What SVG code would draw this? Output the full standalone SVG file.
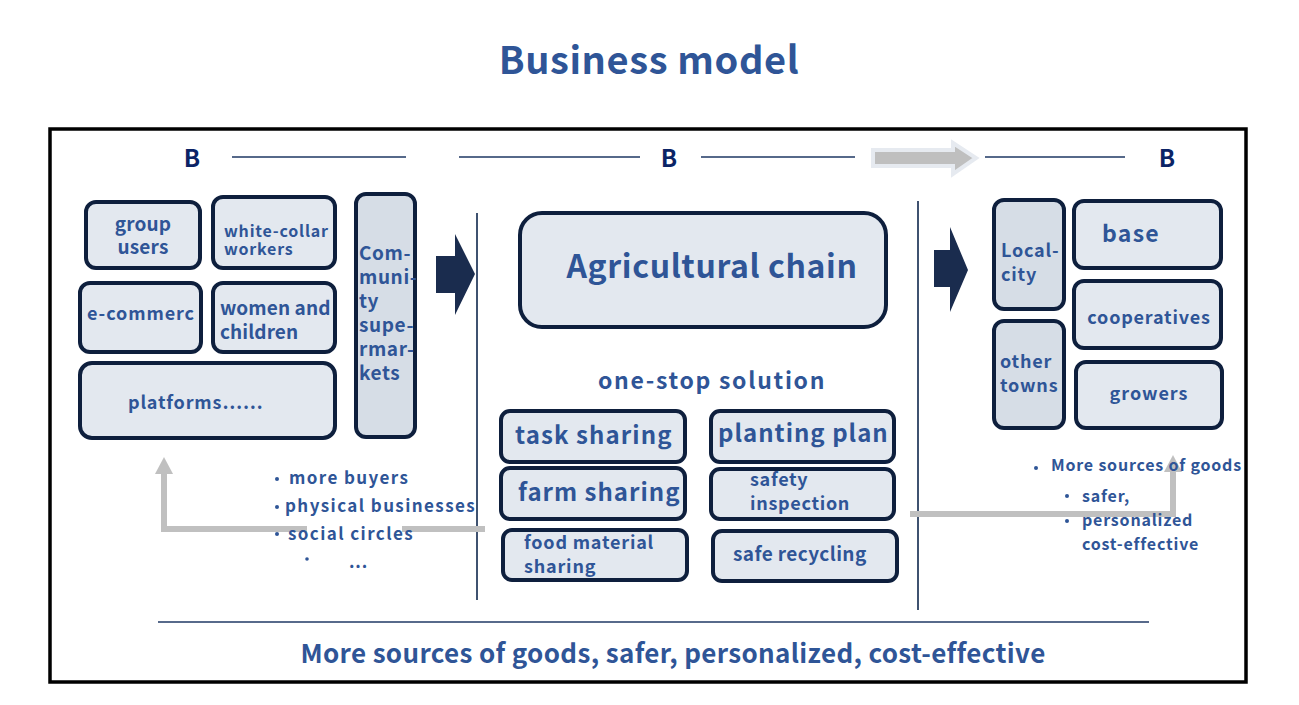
<svg xmlns="http://www.w3.org/2000/svg" width="1299" height="705" viewBox="0 0 1299 705">
<style>
text{font-family:"Noto Sans CJK SC","Noto Sans",sans-serif;font-weight:700;fill:#2F5597;letter-spacing:0.8px}
.b{fill:#0B2466;font-size:24px;letter-spacing:0}
.box{fill:#E3E8EF;stroke:#0E1F3D;stroke-width:4}
.box2{fill:#D6DDE6;stroke:#0E1F3D;stroke-width:4}
.ln{stroke:#1F3864;stroke-width:1.5;fill:none}
.vl{stroke:#3F5270;stroke-width:2;fill:none}
.gr{stroke:#C0C0C0;stroke-width:6;fill:none}
.dk{fill:#1A2C4E}
.bl{letter-spacing:1.4px}
.dot{fill:#2F5597}
</style>
<rect width="1299" height="705" fill="#fff"/>
<text x="649" y="74" text-anchor="middle" font-size="38" style="letter-spacing:0.6px">Business model</text>
<rect x="50" y="129" width="1196" height="553" fill="none" stroke="#000" stroke-width="3.5"/>

<g id="headers">
<text class="b" x="192" y="167" text-anchor="middle">B</text>
<text class="b" x="669" y="167" text-anchor="middle">B</text>
<text class="b" x="1167" y="167" text-anchor="middle">B</text>
<path class="ln" d="M232 157H406M459 157H640M701 157H855M985 157H1125"/>
<path d="M873 150H953V143L976 158L953 174V166H873Z" fill="#BFBFBF" stroke="#E6EAF0" stroke-width="4"/>
</g>

<g id="left-nodes">
<g id="n-group"><rect class="box" x="86" y="202" width="114" height="66" rx="10"/><text font-size="19" text-anchor="middle" style="letter-spacing:0.2px"><tspan x="143" y="231">group</tspan><tspan x="143" y="254">users</tspan></text></g>
<g id="n-white"><rect class="box" x="213" y="197" width="122" height="71" rx="10"/><text font-size="16"><tspan x="224" y="237">white-collar</tspan><tspan x="224" y="255">workers</tspan></text></g>
<g id="n-ecom"><rect class="box" x="80" y="283" width="121" height="69" rx="10"/><text x="87" y="320" font-size="18" style="letter-spacing:0.9px">e-commerc</text></g>
<g id="n-women"><rect class="box" x="213" y="283" width="122" height="69" rx="10"/><text font-size="19" style="letter-spacing:0.1px"><tspan x="220" y="315">women and</tspan><tspan x="220" y="339">children</tspan></text></g>
<g id="n-platforms"><rect class="box" x="80" y="363" width="255" height="75" rx="12"/><text x="128" y="409" font-size="18">platforms……</text></g>
<g id="n-community"><rect class="box2" x="356" y="194" width="59" height="243" rx="10"/>
<text font-size="19" style="letter-spacing:0.6px"><tspan x="359" y="260">Com-</tspan><tspan x="359" y="284">muni-</tspan><tspan x="359" y="308">ty</tspan><tspan x="359" y="332">supe-</tspan><tspan x="359" y="356">rmar-</tspan><tspan x="359" y="380">kets</tspan></text></g>
</g>

<g id="center-nodes">
<g id="n-agri"><rect class="box" x="520" y="213" width="366" height="114" rx="22"/><text x="712" y="278" font-size="32" text-anchor="middle" style="letter-spacing:0.6px">Agricultural chain</text></g>
<text x="712" y="389" font-size="23" text-anchor="middle" style="letter-spacing:1.7px">one-stop solution</text>
<g id="n-task"><rect class="box" x="501" y="411" width="184" height="51" rx="9"/><text x="515" y="444" font-size="24" style="letter-spacing:1.1px">task sharing</text></g>
<g id="n-farm"><rect class="box" x="501" y="468" width="184" height="51" rx="9"/><text x="518" y="501" font-size="24" style="letter-spacing:1px">farm sharing</text></g>
<g id="n-food"><rect class="box" x="503" y="530" width="184" height="50" rx="9"/><text font-size="18"><tspan x="524" y="549">food material</tspan><tspan x="524" y="573">sharing</tspan></text></g>
<g id="n-plant"><rect class="box" x="711" y="411" width="183" height="51" rx="9"/><text x="718" y="442" font-size="24" style="letter-spacing:1px">planting plan</text></g>
<g id="n-safety"><rect class="box" x="711" y="469" width="183" height="50" rx="9"/><text font-size="18" style="letter-spacing:0.7px"><tspan x="750" y="486">safety</tspan><tspan x="750" y="510">inspection</tspan></text></g>
<g id="n-recycle"><rect class="box" x="713" y="531" width="184" height="50" rx="9"/><text x="733" y="561" font-size="19" style="letter-spacing:0.4px">safe recycling</text></g>
</g>

<g id="right-nodes">
<g id="n-local"><rect class="box2" x="994" y="200" width="70" height="109" rx="10"/><text font-size="18"><tspan x="1001" y="257">Local-</tspan><tspan x="1001" y="281">city</tspan></text></g>
<g id="n-other"><rect class="box2" x="994" y="321" width="70" height="107" rx="10"/><text font-size="18"><tspan x="1000" y="368">other</tspan><tspan x="1000" y="392">towns</tspan></text></g>
<g id="n-base"><rect class="box" x="1074" y="201" width="147" height="67" rx="10"/><text x="1102" y="242" font-size="23" style="letter-spacing:1.3px">base</text></g>
<g id="n-coop"><rect class="box" x="1074" y="281" width="147" height="67" rx="10"/><text x="1149" y="324" font-size="18" text-anchor="middle">cooperatives</text></g>
<g id="n-growers"><rect class="box" x="1076" y="362" width="146" height="66" rx="10"/><text x="1149" y="400" font-size="18" text-anchor="middle" style="letter-spacing:1px">growers</text></g>
</g>

<g id="connectors">
<path class="dk" d="M436 256H455V234L475 274L455 315V293H436Z"/>
<path class="dk" d="M934 250H950V227L968 270L950 312V287H934Z"/>
<path class="vl" d="M477 213V600M918 201V610"/>
<path class="gr" d="M485 529H402M307 529H164V472"/>
<path d="M155 474L164 457L173 474Z" fill="#C0C0C0"/>
<path class="gr" d="M910 514H1173V470"/>
<path d="M1164 472L1173 455L1182 472Z" fill="#C0C0C0"/>
<path class="ln" d="M158 622H1149"/>
</g>

<g id="notes">
<circle class="dot" cx="277" cy="479" r="2"/><circle class="dot" cx="277" cy="507" r="2"/><circle class="dot" cx="277" cy="534" r="2"/><circle class="dot" cx="307" cy="559" r="1.8"/>
<text class="bl" font-size="17"><tspan x="289" y="484">more buyers</tspan><tspan x="285" y="512">physical businesses</tspan><tspan x="288" y="540">social circles</tspan></text>
<text x="349" y="568" font-size="17">...</text>
<circle class="dot" cx="1036" cy="468" r="2"/><circle class="dot" cx="1067" cy="496" r="2"/><circle class="dot" cx="1067" cy="521" r="2"/>
<text font-size="16"><tspan x="1051" y="471">More sources of goods</tspan><tspan x="1082" y="502">safer,</tspan><tspan x="1082" y="526">personalized</tspan><tspan x="1082" y="550">cost-effective</tspan></text>
<text x="673" y="663" font-size="26" text-anchor="middle" style="letter-spacing:0.35px">More sources of goods, safer, personalized, cost-effective</text>
</g>
</svg>
